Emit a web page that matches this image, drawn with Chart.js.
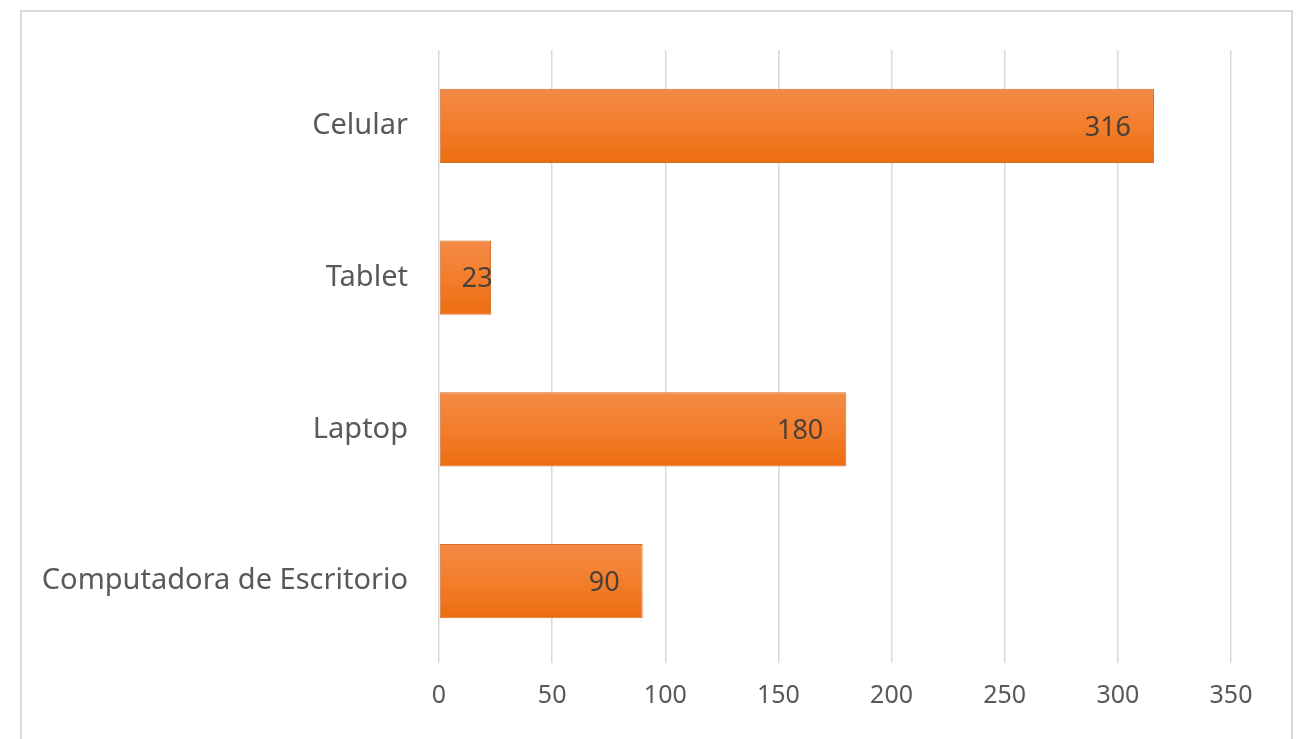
<!DOCTYPE html>
<html lang="es">
<head>
<meta charset="utf-8">
<title>Dispositivos</title>
<script src="https://cdn.jsdelivr.net/npm/chart.js@4.4.7/dist/chart.umd.min.js"></script>
<style>
  html, body { margin: 0; padding: 0; background: #fff; }
  .wrap { position: relative; width: 1304px; height: 739px; overflow: hidden; }
  .frame {
    position: absolute; left: 20px; top: 10px; width: 1273px; height: 800px;
    border: 2px solid #d9d9d9; box-sizing: border-box;
  }
  canvas { position: absolute; left: 0; top: 0; }
</style>
</head>
<body>
<div class="wrap">
  <div class="frame"></div>
  <canvas id="chart" width="1304" height="739"></canvas>
</div>
<script>
const devices = ["Celular", "Tablet", "Laptop", "Computadora de Escritorio"]
const counts = [316, 23, 180, 90]
const axisMax = 350
const axisStep = 50

const FONT = "'Noto Sans', 'Open Sans', sans-serif"
const BAR_PCT = 0.49

// vertical orange gradient for each bar, taken from the category scale
function barFill(ctx) {
  const chart = ctx.chart
  const y = chart.scales && chart.scales.y
  if (ctx.type !== "data" || !y || !chart.chartArea) return "#ef7d2e"
  const center = y.getPixelForValue(ctx.dataIndex)
  const half = (y.height / devices.length) * BAR_PCT / 2
  const g = chart.ctx.createLinearGradient(0, center - half, 0, center + half)
  g.addColorStop(0, "#f48a46")
  g.addColorStop(0.5, "#f27e2c")
  g.addColorStop(1, "#ed6c10")
  return g
}

// value labels, inside the end of each bar
const valueLabels = {
  id: "valueLabels",
  afterDatasetsDraw(chart) {
    const { ctx } = chart
    const meta = chart.getDatasetMeta(0)
    ctx.save()
    ctx.font = `27px ${FONT}`
    ctx.fillStyle = "#4a4038"
    ctx.textAlign = "right"
    ctx.textBaseline = "middle"
    meta.data.forEach((bar, i) => {
      const text = String(counts[i])
      const w = ctx.measureText(text).width
      const right = Math.max(bar.x - 23, bar.base + w + 22)
      ctx.fillText(text, right, bar.y + 2)
    })
    ctx.restore()
  }
}

new Chart(document.getElementById("chart"), {
  type: "bar",
  data: {
    labels: devices,
    datasets: [{
      data: counts,
      backgroundColor: barFill,
      borderColor: "#d46d2a",
      borderWidth: 1,
      borderSkipped: false,
      barPercentage: BAR_PCT,
      categoryPercentage: 1
    }]
  },
  options: {
    indexAxis: "y",
    responsive: false,
    animation: false,
    layout: { padding: { top: 50, right: 73, left: 0, bottom: 0 } },
    plugins: {
      legend: { display: false },
      tooltip: { enabled: false }
    },
    scales: {
      x: {
        min: 0,
        max: axisMax,
        afterFit: (s) => { s.height = 82 },
        border: { display: false },
        grid: { color: "#d9d9d9", lineWidth: 1.5, drawTicks: true, tickLength: 6 },
        ticks: {
          stepSize: axisStep,
          color: "#595959",
          padding: 18,
          font: { family: FONT, size: 25 }
        }
      },
      y: {
        afterFit: (s) => { s.width = 439 },
        border: { display: false },
        grid: { display: false, drawTicks: false },
        ticks: {
          color: "#595959",
          padding: 31,
          font: { family: FONT, size: 29 }
        }
      }
    }
  },
  plugins: [valueLabels]
})
</script>
</body>
</html>
